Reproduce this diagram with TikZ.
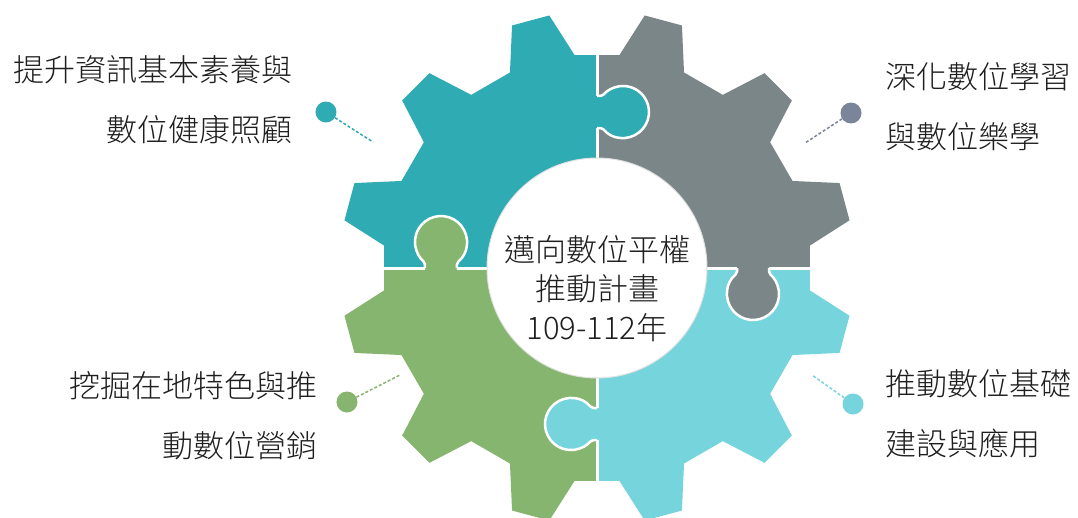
\documentclass[tikz,border=0pt]{standalone}
\usepackage{fontspec}
\setmainfont{Noto Sans CJK TC}[UprightFont={* Light}]
\usepackage{tikz}
\usetikzlibrary{positioning}
\definecolor{pteal}{RGB}{46,171,179}
\definecolor{pgray}{RGB}{123,134,137}
\definecolor{pgreen}{RGB}{134,181,111}
\definecolor{pcyan}{RGB}{118,212,221}
\definecolor{pslate}{RGB}{122,133,153}
\definecolor{ink}{RGB}{30,30,30}
\begin{document}
\begin{tikzpicture}[x=1pt, y=1pt,
    dot/.style={circle, inner sep=0pt, minimum size=21pt},
    lead/.style={dashed, dash pattern=on 3pt off 2pt, line width=1.5pt},
    label/.style={inner sep=0pt, text=ink, font=\fontsize{31}{60}\selectfont},
    edge/.style={white, line width=2.5pt, rounded corners=2pt}]
    \useasboundingbox[fill=white] (-597,-249) rectangle (481,268);
    % gear body in four colours
    \begin{scope}
      \clip (6:214pt) \foreach \a in {15,45,...,345} {
        -- ({\a-9}:214pt) -- ({\a-4.3}:257pt) -- ({\a+4.3}:257pt) -- ({\a+9}:214pt)} -- cycle;
      \fill[pteal] (-300,0) rectangle (0,300);
      \fill[pgray] (0,0) rectangle (300,300);
      \fill[pgreen] (-300,-300) rectangle (0,0);
      \fill[pcyan] (0,-300) rectangle (300,0);
    \end{scope}
    \draw[white, line width=3pt] (0,-262) -- (0,262) (-262,0) -- (262,0);
    % puzzle knobs
    \foreach \c/\kx/\ky/\r in {pteal/0/156/0, pgray/156/0/-90,
                               pcyan/0/-156/180, pgreen/-156/0/90} {
      \begin{scope}[xshift=\kx pt, yshift=\ky pt, rotate=\r]
        \fill[\c, rounded corners=2pt] (-3,-16) -- (5.5,-16)
          arc[start angle=-142, end angle=142, radius=26pt] -- (-3,16) -- cycle;
        \draw[edge] (0,-16) -- (5.5,-16)
          arc[start angle=-142, end angle=142, radius=26pt] -- (0,16);
      \end{scope}
    }
    \node[circle, fill=white, draw=black!12, line width=1pt, minimum size=220pt] (hub) at (0,0) {};
    \node[label, align=center, font=\fontsize{31}{39}\selectfont] (title) at (0,-21)
      {邁向數位平權\\推動計畫\\109-112年};
    % side items
    \node[dot, fill=pteal] (d1) at (-271,156) {};
    \node[dot, fill=pslate] (d2) at (254,155) {};
    \node[dot, fill=pgreen] (d3) at (-250,-134) {};
    \node[dot, fill=pcyan] (d4) at (256,-136) {};
    \coordinate (e1) at (-224,126);
    \coordinate (e2) at (208,125);
    \coordinate (e3) at (-197,-107);
    \coordinate (e4) at (215,-107);
    \draw[lead, pteal] (d1) -- (e1);
    \draw[lead, pslate] (d2) -- (e2);
    \draw[lead, pgreen] (d3) -- (e3);
    \draw[lead, pcyan] (d4) -- (e4);
    \node[label, align=right, anchor=east] (t1) at (-304,168) {提升資訊基本素養與\\數位健康照顧};
    \node[label, align=left, anchor=west] (t2) at (288,161) {深化數位學習\\與數位樂學};
    \node[label, align=right, anchor=east] (t3) at (-279,-148) {挖掘在地特色與推\\動數位營銷};
    \node[label, align=left, anchor=west] (t4) at (288,-146) {推動數位基礎\\建設與應用};
\end{tikzpicture}
\end{document}
